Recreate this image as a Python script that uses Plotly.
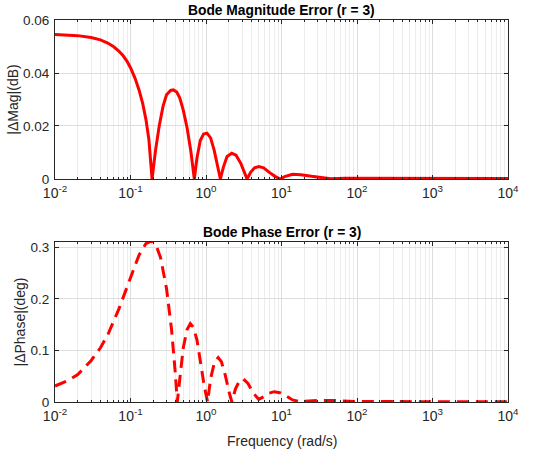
import plotly.graph_objects as go
from plotly.subplots import make_subplots

# Magnitude error data (rad/s, dB)
mag_freq = [0.01, 0.015, 0.02, 0.03, 0.04, 0.05, 0.06, 0.07, 0.08, 0.09, 0.1, 0.115, 0.13, 0.145, 0.16, 0.175, 0.193,
            0.215, 0.24, 0.27, 0.30, 0.34, 0.37, 0.41, 0.45, 0.50, 0.56, 0.63, 0.70,
            0.76, 0.84, 0.93, 1.03, 1.15, 1.28, 1.42, 1.55,
            1.7, 1.9, 2.2, 2.5, 2.9, 3.5,
            3.9, 4.4, 5.0, 5.8, 6.9, 8.2, 9.6,
            11, 14, 18, 25, 35, 45, 70, 100, 300, 1000, 3000, 10000]
mag_err = [0.0545, 0.0544, 0.0541, 0.0534, 0.0525, 0.0513, 0.0499, 0.0483, 0.0465, 0.0444, 0.0420, 0.0380, 0.0335, 0.0285, 0.0225, 0.0150, 0.0,
           0.0110, 0.0200, 0.0275, 0.0318, 0.0334, 0.0336, 0.0328, 0.0305, 0.0260, 0.0195, 0.0105, 0.0,
           0.0080, 0.0145, 0.0170, 0.0173, 0.0155, 0.0110, 0.0050, 0.0,
           0.0045, 0.0085, 0.0097, 0.0090, 0.0058, 0.0,
           0.0025, 0.0042, 0.0047, 0.0042, 0.0025, 0.0010, 0.0,
           0.0009, 0.0018, 0.0016, 0.0010, 0.0004, 0.0001, 0.0003, 0.0003, 0.0002, 0.0002, 0.0002, 0.0002]

# Phase error data (rad/s, deg)
ph_freq = [0.01, 0.015, 0.02, 0.03, 0.04, 0.05, 0.07, 0.1, 0.13, 0.16, 0.19, 0.22, 0.25, 0.3, 0.35, 0.39, 0.417,
           0.45, 0.5, 0.56, 0.62, 0.68, 0.76, 0.85, 0.95, 1.05,
           1.15, 1.3, 1.45, 1.6, 1.8, 2.0, 2.2,
           2.45, 2.75, 3.1, 3.6, 4.2, 5.0,
           5.8, 6.8, 8.0, 9.5, 11.5, 14, 17,
           22, 30, 47, 70, 100, 300, 1000, 3000, 10000]
ph_err = [0.031, 0.042, 0.053, 0.080, 0.105, 0.130, 0.180, 0.240, 0.285, 0.307, 0.312, 0.302, 0.280, 0.220, 0.140, 0.060, 0.0,
          0.045, 0.105, 0.140, 0.152, 0.145, 0.120, 0.075, 0.030, 0.0,
          0.045, 0.078, 0.086, 0.078, 0.052, 0.022, 0.0,
          0.025, 0.040, 0.045, 0.036, 0.018, 0.005,
          0.010, 0.017, 0.020, 0.018, 0.012, 0.004, 0.001,
          0.002, 0.003, 0.003, 0.002, 0.001, 0.0008, 0.0005, 0.0004, 0.0003]

x_tickvals = [1e-2, 1e-1, 1e0, 1e1, 1e2, 1e3, 1e4]
x_ticktext = ["10<sup>-2</sup>", "10<sup>-1</sup>", "10<sup>0</sup>", "10<sup>1</sup>",
              "10<sup>2</sup>", "10<sup>3</sup>", "10<sup>4</sup>"]
minor_vals = [m * 10 ** e for e in range(-2, 4) for m in range(2, 10)]

mag_ticks = [0, 0.02, 0.04, 0.06]
mag_ticktext = ["0", "0.02", "0.04", "0.06"]
ph_ticks = [0, 0.1, 0.2, 0.3]
ph_ticktext = ["0", "0.1", "0.2", "0.3"]

fig = make_subplots(rows=2, cols=1, vertical_spacing=0.1)
fig.add_trace(go.Scatter(x=mag_freq, y=mag_err, mode="lines",
                         line=dict(color="#ff0000", width=3), showlegend=False), row=1, col=1)
fig.add_trace(go.Scatter(x=ph_freq, y=ph_err, mode="lines",
                         line=dict(color="#ff0000", width=3, dash="12px,7px"), showlegend=False), row=2, col=1)

axis_col = "#262626"
common_x = dict(type="log", range=[-2, 4], tickvals=x_tickvals, ticktext=x_ticktext,
                showgrid=True, gridcolor="#dedede", gridwidth=1,
                minor=dict(tickvals=minor_vals, showgrid=True, gridcolor="#ececec", gridwidth=1,
                           ticks="inside", ticklen=2, tickcolor=axis_col),
                showline=True, linecolor=axis_col, linewidth=1, mirror="ticks",
                ticks="inside", ticklen=4, tickcolor=axis_col, zeroline=False,
                ticklabelstandoff=1,
                tickfont=dict(size=14, color=axis_col))
fig.update_xaxes(**common_x)

common_y = dict(showgrid=True, gridcolor="#dedede", gridwidth=1,
                showline=True, linecolor=axis_col, linewidth=1, mirror="ticks",
                ticks="inside", ticklen=4, tickcolor=axis_col, zeroline=False,
                ticklabelstandoff=2,
                tickfont=dict(size=13.5, color=axis_col))
fig.update_yaxes(**common_y)
fig.update_yaxes(range=[0, 0.06], tickvals=mag_ticks, ticktext=mag_ticktext,
                 title=dict(text="|ΔMag|(dB)", font=dict(size=14, color=axis_col), standoff=1), row=1, col=1)
fig.update_yaxes(range=[0, 0.31], tickvals=ph_ticks, ticktext=ph_ticktext,
                 title=dict(text="|ΔPhase|(deg)", font=dict(size=14, color=axis_col), standoff=1), row=2, col=1)

fig.update_layout(
    width=550, height=450,
    margin=dict(l=49, r=42, t=20, b=48),
    paper_bgcolor="white", plot_bgcolor="white",
    font=dict(family="Liberation Sans, Arial, sans-serif", color=axis_col),
    xaxis=dict(domain=[0, 1]),
    yaxis=dict(domain=[0.5838, 1.0]),
    yaxis2=dict(domain=[0.0, 0.4188]),
    annotations=[
        dict(text="<b>Bode Magnitude Error (r = 3)</b>", x=0.5, y=1.0, xref="paper", yref="paper",
             xanchor="center", yanchor="bottom", yshift=0, showarrow=False, font=dict(size=13.8, color="black")),
        dict(text="<b>Bode Phase Error (r = 3)</b>", x=0.5, y=0.4188, xref="paper", yref="paper",
             xanchor="center", yanchor="bottom", yshift=0, showarrow=False, font=dict(size=13.8, color="black")),
        dict(text="Frequency (rad/s)", x=0.5, y=0.0, xref="paper", yref="paper",
             xanchor="center", yanchor="top", yshift=-29, showarrow=False, font=dict(size=14, color=axis_col)),
    ],
)

fig.write_html("out.html", config={"displayModeBar": False},
               post_script="document.body.style.margin='0';")
